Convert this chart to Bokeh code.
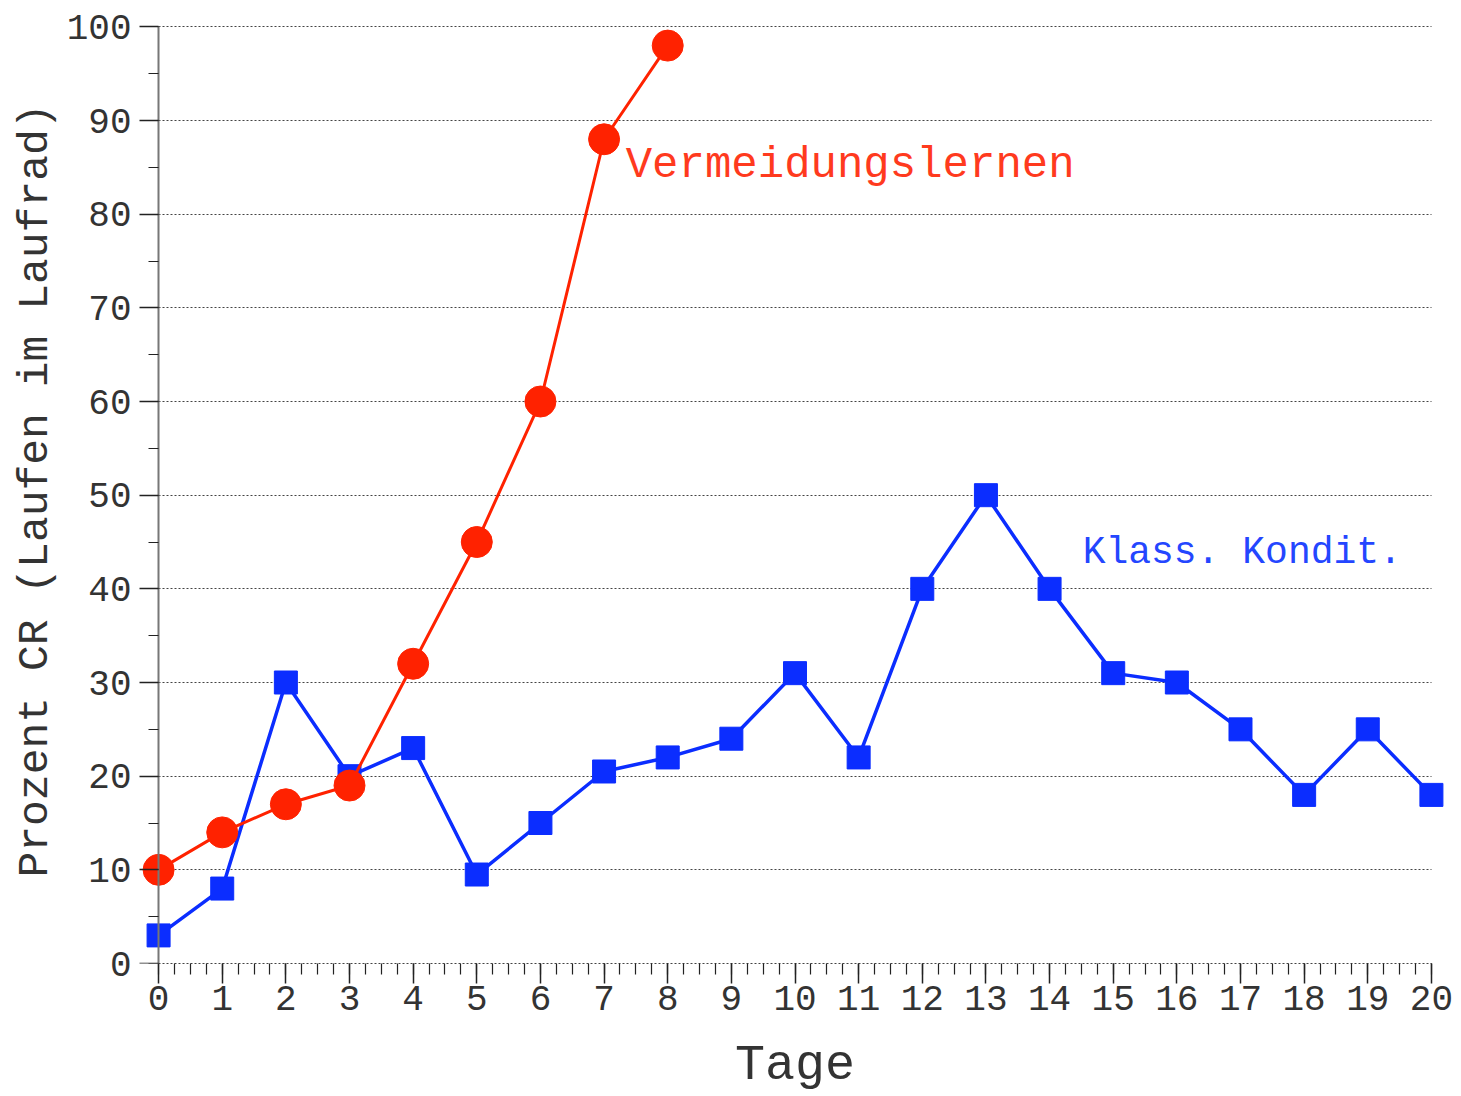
from bokeh.plotting import figure
from bokeh.models import Range1d, LinearAxis, Grid, SingleIntervalTicker, Label
from bokeh.embed import file_html
from bokeh.resources import INLINE

# ---- data ----
days_av = [0, 1, 2, 3, 4, 5, 6, 7, 8]
av_values = [10, 14, 17, 19, 32, 45, 60, 88, 98]          # Vermeidungslernen
days_cc = list(range(21))
cc_values = [3, 8, 30, 20, 23, 9.5, 15, 20.5, 22, 24, 31, 22, 40, 50, 40, 31, 30, 25, 18, 25, 18]  # Klass. Kondit.
x_label = "Tage"
y_label = "Prozent CR (Laufen im Laufrad)"
av_name = "Vermeidungslernen"
cc_name = "Klass. Kondit."

RED = "#FF2200"
BLUE = "#0B2DFF"
RED_TXT = "#FF3A1E"
BLUE_TXT = "#2446FF"
FONT = "Liberation Mono"
TXT = "#333333"

p = figure(width=1461, height=1096, output_backend="svg", toolbar_location=None,
           x_range=Range1d(-0.3, 20.3), y_range=Range1d(0, 101),
           x_axis_location=None, y_axis_location=None,
           min_border_left=139, min_border_right=11, min_border_top=17, min_border_bottom=133)
p.outline_line_color = None
for g in p.grid:
    g.visible = False

# grid
ygrid = Grid(dimension=1, ticker=SingleIntervalTicker(interval=10),
             grid_line_color="#444444", grid_line_dash="2 2", grid_line_width=1,
             cross_bounds=(0, 20))
p.add_layout(ygrid, "center")

# x axis (at the bottom edge, y = 0)
xaxis = LinearAxis(bounds=(0, 20), ticker=SingleIntervalTicker(interval=1, num_minor_ticks=4))
xaxis.axis_line_color = "#444444"
xaxis.axis_line_dash = "2 2"
xaxis.axis_line_width = 1
xaxis.major_tick_out = 20
xaxis.major_tick_in = 0
xaxis.minor_tick_out = 11
xaxis.minor_tick_in = 0
xaxis.major_tick_line_color = "#222222"
xaxis.minor_tick_line_color = "#222222"
xaxis.major_tick_line_width = 1.5
xaxis.minor_tick_line_width = 1.2
xaxis.major_label_text_font = FONT
xaxis.major_label_text_font_size = "36px"
xaxis.major_label_text_color = TXT
xaxis.major_label_standoff = 2
xaxis.axis_label = x_label
xaxis.axis_label_text_font = FONT
xaxis.axis_label_text_font_size = "50px"
xaxis.axis_label_text_font_style = "normal"
xaxis.axis_label_text_color = TXT
xaxis.axis_label_standoff = 24
p.add_layout(xaxis, "below")

# y axis line and ticks at x = 0
yrule = LinearAxis(fixed_location=0, bounds=(0, 100),
                   ticker=SingleIntervalTicker(interval=10, num_minor_ticks=2))
yrule.axis_line_color = "#777777"
yrule.axis_line_width = 2
yrule.major_tick_out = 20
yrule.major_tick_in = 0
yrule.minor_tick_out = 10
yrule.minor_tick_in = 0
yrule.major_tick_line_color = "#222222"
yrule.minor_tick_line_color = "#222222"
yrule.major_tick_line_width = 1.5
yrule.minor_tick_line_width = 1.2
yrule.major_label_text_color = None
yrule.major_label_text_font_size = "0px"
p.add_layout(yrule, "left")

# y tick labels and title
ylab = LinearAxis(bounds=(0, 100), ticker=SingleIntervalTicker(interval=10))
ylab.axis_line_color = None
ylab.major_tick_out = 0
ylab.major_tick_in = 0
ylab.minor_tick_out = 0
ylab.minor_tick_in = 0
ylab.major_tick_line_color = None
ylab.minor_tick_line_color = None
ylab.major_label_text_font = FONT
ylab.major_label_text_font_size = "36px"
ylab.major_label_text_color = TXT
ylab.major_label_standoff = 8
ylab.axis_label = y_label
ylab.axis_label_text_font = FONT
ylab.axis_label_text_font_size = "43px"
ylab.axis_label_text_font_style = "normal"
ylab.axis_label_text_color = TXT
ylab.axis_label_standoff = 4
p.add_layout(ylab, "left")

# series
p.line(days_cc, cc_values, line_color=BLUE, line_width=3.5)
p.scatter(days_cc, cc_values, marker="square", size=23, fill_color=BLUE, line_color=BLUE)
p.line(days_av, av_values, line_color=RED, line_width=3)
p.scatter(days_av, av_values, marker="circle", size=31, fill_color=RED, line_color=RED)

p.add_layout(Label(x=7.34, y=85.3, text=av_name, text_font=FONT, text_font_size="44px",
                   text_color=RED_TXT, text_baseline="alphabetic"))
p.add_layout(Label(x=14.52, y=43.9, text=cc_name, text_font=FONT, text_font_size="38px",
                   text_color=BLUE_TXT, text_baseline="alphabetic"))

open("out.html", "w").write(file_html(p, INLINE))
